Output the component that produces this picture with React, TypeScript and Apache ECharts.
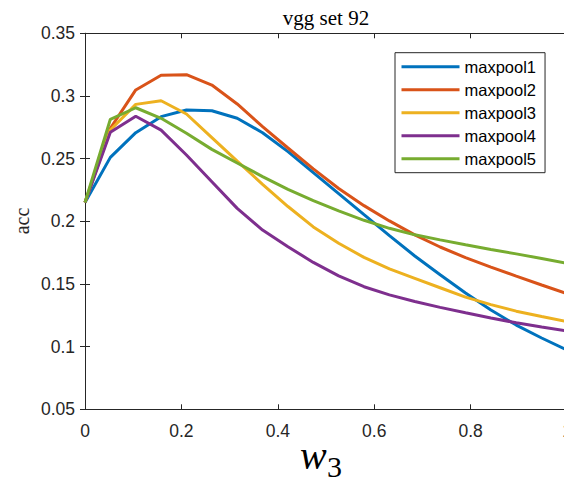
import React, { useEffect, useRef } from "react";
import * as echarts from "echarts";

const xValues = [0, 0.0526, 0.1053, 0.1579, 0.2105, 0.2632, 0.3158, 0.3684, 0.4211, 0.4737, 0.5263, 0.5789, 0.6316, 0.6842, 0.7368, 0.7895, 0.8421, 0.8947, 0.9474, 1];

const seriesNames = ["maxpool1", "maxpool2", "maxpool3", "maxpool4", "maxpool5"];
const seriesColors = ["#0072BD", "#D95319", "#EDB120", "#7E2F8E", "#77AC30"];

const maxpool1 = [0.215, 0.251, 0.2707, 0.2835, 0.2888, 0.2882, 0.2822, 0.2707, 0.2556, 0.2388, 0.2221, 0.2053, 0.1886, 0.1723, 0.1573, 0.1428, 0.1292, 0.1172, 0.1069, 0.0973];
const maxpool2 = [0.215, 0.2742, 0.3048, 0.3165, 0.317, 0.3087, 0.2936, 0.2755, 0.2585, 0.2418, 0.2262, 0.2125, 0.2003, 0.1892, 0.1795, 0.171, 0.1635, 0.1563, 0.1492, 0.1422];
const maxpool3 = [0.215, 0.2728, 0.2933, 0.2962, 0.2856, 0.2668, 0.248, 0.2295, 0.2118, 0.1955, 0.1825, 0.1712, 0.162, 0.1545, 0.147, 0.1395, 0.1335, 0.1283, 0.124, 0.12];
const maxpool4 = [0.215, 0.271, 0.2838, 0.2728, 0.2529, 0.2316, 0.2103, 0.193, 0.1797, 0.1672, 0.1565, 0.1478, 0.1413, 0.136, 0.1313, 0.127, 0.1228, 0.119, 0.1156, 0.1125];
const maxpool5 = [0.215, 0.2814, 0.2906, 0.2822, 0.2702, 0.2574, 0.2465, 0.2357, 0.2255, 0.2165, 0.2083, 0.2008, 0.1944, 0.1892, 0.1852, 0.1813, 0.1775, 0.174, 0.1703, 0.1665];

const allSeries = [maxpool1, maxpool2, maxpool3, maxpool4, maxpool5];

const titleText = "vgg set 92";
const yAxisName = "acc";
const xAxisMain = "w";
const xAxisSub = "3";

const AXIS_COLOR = "#262626";
const SANS = "'Liberation Sans', Arial, Helvetica, sans-serif";
const SERIF = "'Liberation Serif', 'Times New Roman', serif";

export default function App() {
  const ref = useRef<HTMLDivElement>(null);

  useEffect(() => {
    if (!ref.current) return;
    const chart = echarts.init(ref.current, null, { renderer: "svg" });

    const tickCommon = {
      show: true,
      inside: true,
      length: 5,
      lineStyle: { color: AXIS_COLOR, width: 1 },
    };
    const lineCommon = { show: true, lineStyle: { color: AXIS_COLOR, width: 1 } };
    const fmt = (v: number) => String(parseFloat(v.toFixed(2)));

    chart.setOption({
      animation: false,
      backgroundColor: "#ffffff",
      grid: {
        left: 85,
        top: 33.3,
        width: 482,
        height: 376,
        containLabel: false,
        outerBoundsMode: "none",
      },
      xAxis: [
        {
          type: "value",
          min: 0,
          max: 1,
          interval: 0.2,
          position: "bottom",
          axisLine: lineCommon,
          axisTick: tickCommon,
          splitLine: { show: false },
          axisLabel: {
            show: true,
            color: AXIS_COLOR,
            fontSize: 17.5,
            fontFamily: SANS,
            margin: 13,
            formatter: fmt,
          },
        },
        {
          type: "value",
          min: 0,
          max: 1,
          interval: 0.2,
          position: "top",
          axisLine: lineCommon,
          axisTick: tickCommon,
          splitLine: { show: false },
          axisLabel: { show: false },
        },
      ],
      yAxis: [
        {
          type: "value",
          min: 0.05,
          max: 0.35,
          interval: 0.05,
          position: "left",
          axisLine: lineCommon,
          axisTick: tickCommon,
          splitLine: { show: false },
          axisLabel: {
            show: true,
            color: AXIS_COLOR,
            fontSize: 17.5,
            fontFamily: SANS,
            margin: 10,
            formatter: fmt,
          },
        },
        {
          type: "value",
          min: 0.05,
          max: 0.35,
          interval: 0.05,
          position: "right",
          axisLine: lineCommon,
          axisTick: tickCommon,
          splitLine: { show: false },
          axisLabel: { show: false },
        },
      ],
      legend: {
        orient: "vertical",
        left: 395,
        top: 52.7,
        icon: "rect",
        itemWidth: 58,
        itemHeight: 3,
        itemGap: 0,
        padding: [2.5, 9, 2.5, 6.5],
        backgroundColor: "#ffffff",
        borderColor: AXIS_COLOR,
        borderWidth: 1,
        borderRadius: 0,
        textStyle: {
          color: "#000000",
          fontSize: 16.5,
          fontFamily: SANS,
          lineHeight: 23,
        },
        data: seriesNames,
      },
      series: allSeries.map((vals, si) => ({
        name: seriesNames[si],
        type: "line",
        xAxisIndex: 0,
        yAxisIndex: 0,
        showSymbol: false,
        symbol: "none",
        smooth: false,
        color: seriesColors[si],
        lineStyle: { color: seriesColors[si], width: 3 },
        data: vals.map((v, i) => [xValues[i], v]),
      })),
      graphic: [
        {
          type: "text",
          x: 326,
          y: 18,
          style: {
            text: titleText,
            fontFamily: SERIF,
            fontSize: 21,
            fill: "#000000",
            textAlign: "center",
            textVerticalAlign: "middle",
          },
        },
        {
          type: "text",
          x: 21.5,
          y: 221,
          rotation: Math.PI / 2,
          style: {
            text: yAxisName,
            fontFamily: SERIF,
            fontSize: 20,
            fill: "#262626",
            textAlign: "center",
            textVerticalAlign: "middle",
          },
        },
        {
          type: "text",
          x: 300,
          y: 455,
          style: {
            text: xAxisMain,
            fontFamily: SERIF,
            fontStyle: "italic",
            fontSize: 40,
            fill: "#000000",
            textAlign: "left",
            textVerticalAlign: "middle",
          },
        },
        {
          type: "text",
          x: 327,
          y: 466,
          style: {
            text: xAxisSub,
            fontFamily: SERIF,
            fontSize: 30,
            fill: "#000000",
            textAlign: "left",
            textVerticalAlign: "middle",
          },
        },
      ],
    });

    return () => {
      chart.dispose();
    };
  }, []);

  return (
    <div
      ref={ref}
      style={{ position: "fixed", left: 0, top: 0, width: 564, height: 483, background: "#fff" }}
    />
  );
}
